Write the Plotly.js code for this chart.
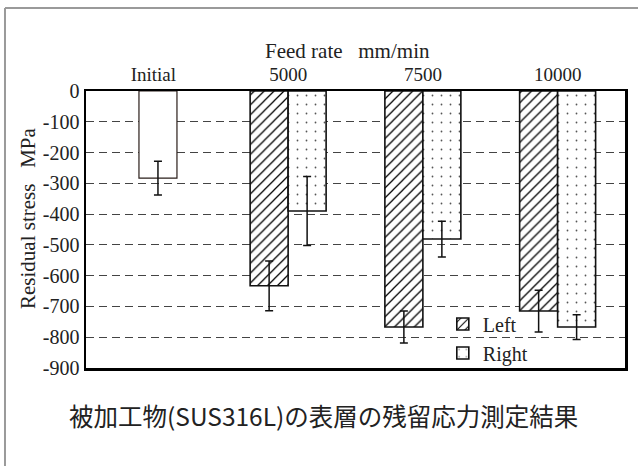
<!DOCTYPE html>
<html>
<head>
<meta charset="utf-8">
<script src="https://cdn.plot.ly/plotly-3.0.1.min.js"></script>
<style>html,body{margin:0;padding:0;background:#fff;}#chart{width:638px;height:466px;}</style>
</head>
<body>
<div id="chart"></div>
<script>
const categories = ["Initial", "5000", "7500", "10000"];
const initialCat = ["Initial"];
const initialValue = [-283];
const initialErr = [55];
const feedCats = ["5000", "7500", "10000"];
const leftValues = [-633, -767, -715];
const leftErr = [81, 52, 68];
const rightValues = [-390, -481, -767];
const rightErr = [112, 58, 40];
const yTickVals = [0, -100, -200, -300, -400, -500, -600, -700, -800, -900];
const yTickText = ["0", "-100", "-200", "-300", "-400", "-500", "-600", "-700", "-800", "-900"];

const serif = "Liberation Serif";
const W = 0.282;

const traces = [
  {
    type: "bar", x: initialCat, y: initialValue, showlegend: false,
    offset: -0.107, width: W,
    marker: {color: "#ffffff", line: {color: "#2a1e1a", width: 1.2}},
    error_y: {type: "data", array: initialErr, visible: true, color: "#111", thickness: 1.5, width: 4}
  },
  {
    type: "bar", name: "Left", x: feedCats, y: leftValues,
    offset: -W, width: W,
    marker: {color: "#ffffff", line: {color: "#111", width: 1.6},
      pattern: {shape: "/", fgcolor: "#000", bgcolor: "#ffffff", size: 7, solidity: 0.18}},
    error_y: {type: "data", array: leftErr, visible: true, color: "#111", thickness: 1.5, width: 4}
  },
  {
    type: "bar", name: "Right", x: feedCats, y: rightValues,
    offset: 0, width: W,
    marker: {color: "#ffffff", line: {color: "#111", width: 1.6},
      pattern: {shape: ".", fgcolor: "#555", bgcolor: "#ffffff", size: 9, solidity: 0.03}},
    error_y: {type: "data", array: rightErr, visible: true, color: "#111", thickness: 1.5, width: 4}
  }
];

const layout = {
  width: 638, height: 466,
  margin: {l: 86, r: 13, t: 91, b: 98},
  paper_bgcolor: "#ffffff", plot_bgcolor: "#ffffff",
  barmode: "overlay",
  font: {family: serif, color: "#222", size: 19},
  showlegend: true,
  legend: {
    x: 0.662, y: 0.229, xanchor: "left", yanchor: "top",
    bgcolor: "rgba(0,0,0,0)", borderwidth: 0,
    font: {family: serif, size: 20, color: "#222"},
    tracegroupgap: 0, traceorder: "normal"
  },
  xaxis: {
    type: "category", categoryorder: "array", categoryarray: categories,
    range: [-0.5, 3.5], side: "top",
    showline: true, linecolor: "#000", linewidth: 2.5, mirror: true,
    showgrid: false, ticks: "", tickfont: {family: serif, size: 19, color: "#222"},
    fixedrange: true
  },
  yaxis: {
    range: [-900, 0], tickvals: yTickVals, ticktext: yTickText,
    showline: true, linecolor: "#000", linewidth: 2.5, mirror: true,
    showgrid: true, gridcolor: "#444", gridwidth: 1.2, griddash: "8px,5px",
    zeroline: false, ticks: "", tickfont: {family: serif, size: 20, color: "#222"},
    fixedrange: true
  },
  shapes: [
    {type: "line", xref: "paper", yref: "paper", x0: -0.1503, x1: -0.1503, y0: 1.2996, y1: -0.4,
     line: {color: "#9a9a9a", width: 2}},
    {type: "line", xref: "paper", yref: "paper", x0: -0.1503, x1: 1.03, y0: 1.2996, y1: 1.2996,
     line: {color: "#9a9a9a", width: 2}}
  ],
  annotations: [
    {text: "Feed rate\u00A0\u00A0\u00A0mm/min", xref: "paper", yref: "paper", x: 0.486, y: 1.144,
     xanchor: "center", yanchor: "middle", showarrow: false,
     font: {family: serif, size: 21, color: "#222"}},
    {text: "Residual stress\u00A0\u00A0\u00A0MPa", xref: "paper", yref: "paper", x: -0.1076, y: 0.5415,
     xanchor: "center", yanchor: "middle", showarrow: false, textangle: -90,
     font: {family: serif, size: 21, color: "#222"}},
    {text: "被加工物(SUS316L)の表層の残留応力測定結果", xref: "paper", yref: "paper", x: 0.441, y: -0.17,
     xanchor: "center", yanchor: "middle", showarrow: false,
     font: {family: "Noto Sans CJK JP", size: 24.5, color: "#222"}}
  ]
};

Plotly.newPlot("chart", traces, layout, {displayModeBar: false, staticPlot: true});
</script>
</body>
</html>
